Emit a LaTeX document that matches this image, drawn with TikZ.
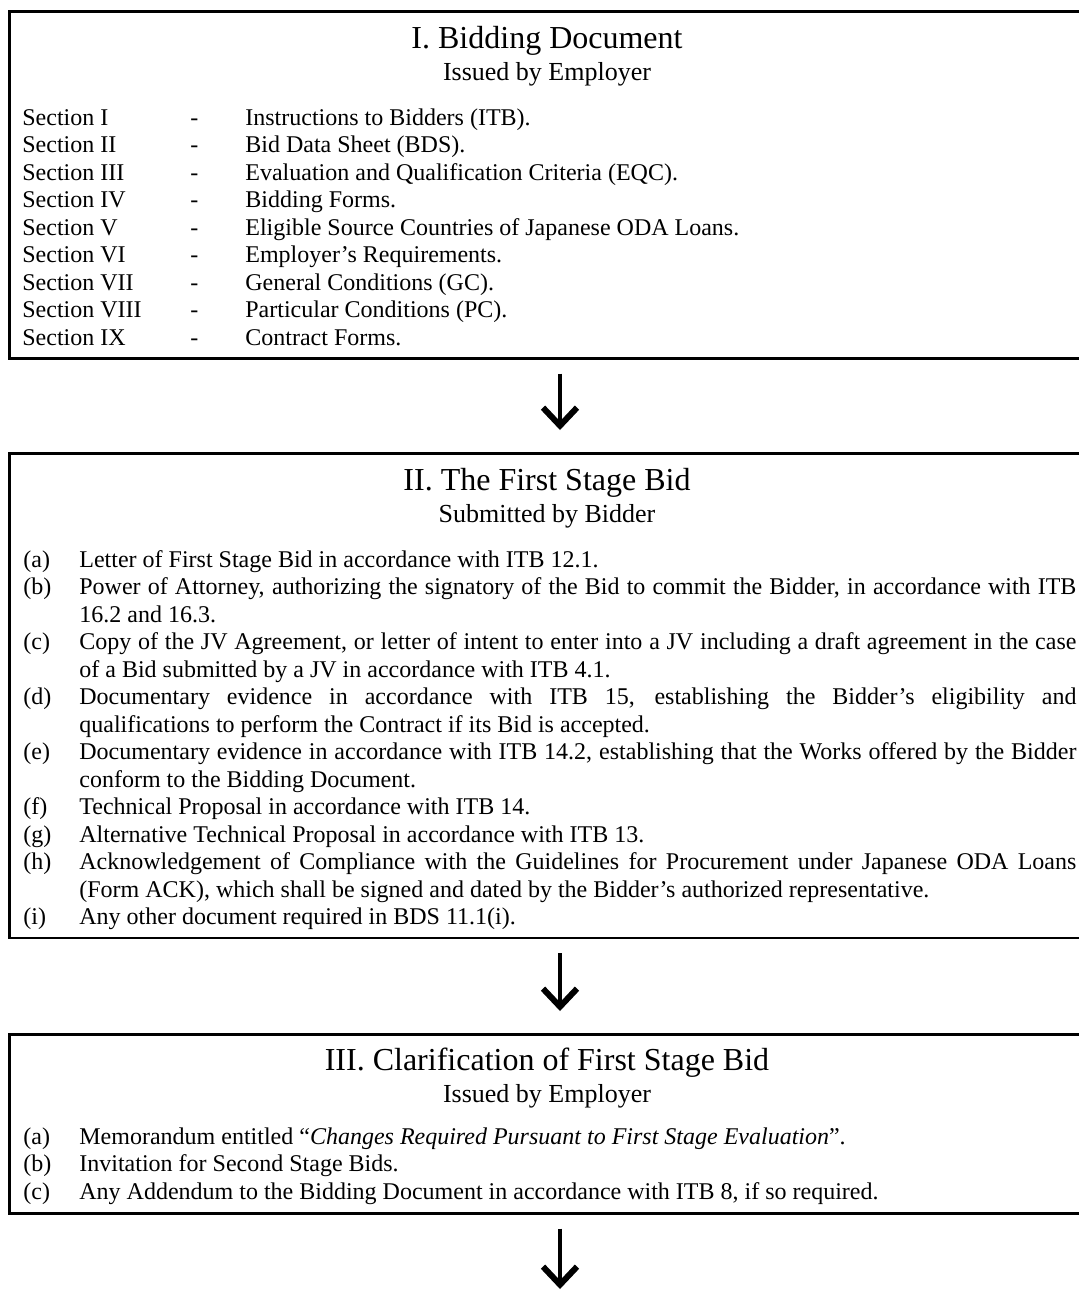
\documentclass[tikz,border=0pt]{standalone}
\usepackage{fontspec}
\setmainfont{Liberation Serif}
\usetikzlibrary{arrows.meta,
	calc,
	positioning}
\hyphenpenalty=10000
\exhyphenpenalty=10000
\tikzstyle{docbox}=[draw, line width=1.35pt, inner sep=0, anchor=north west, minimum width=539pt]
\tikzstyle{headline}=[font=\fontsize{16}{19}\selectfont, anchor=base, inner sep=0]
\tikzstyle{subline}=[font=\fontsize{13}{15}\selectfont, anchor=base, inner sep=0]
\tikzstyle{txt}=[font=\fontsize{12}{13.75}\selectfont, anchor=base west, inner sep=0]
\tikzstyle{itemtxt}=[txt, text width=498.5pt, align=justify]
\tikzstyle{flow}=[-{Straight Barb[length=9pt,width=17pt,line width=3pt]}, line width=2pt]

\begin{document}
\begin{tikzpicture}[x=0.5pt,y=-0.5pt]
                \useasboundingbox (0,0) rectangle (1078,1292);
                % I. Bidding Document
                \node[docbox, minimum height=173.5pt] (doc) at (8,10) {};
                \node[headline] (doctitle) at (547,48) {I. Bidding Document};
                \node[subline] (docby) at (547,80) {Issued by Employer};
                \foreach \sec/\desc [count=\i from 0] in {I/{Instructions to Bidders (ITB).},
                    II/{Bid Data Sheet (BDS).},
                    III/{Evaluation and Qualification Criteria (EQC).},
                    IV/{Bidding Forms.},
                    V/{Eligible Source Countries of Japanese ODA Loans.},
                    VI/{Employer’s Requirements.},
                    VII/{General Conditions (GC).},
                    VIII/{Particular Conditions (PC).},
                    IX/{Contract Forms.}} {
                    \node[txt] (sec\i) at (22,{125+27.5*\i}) {Section \sec};
                    \node[txt] (dash\i) at (190,{125+27.5*\i}) {-};
                    \node[txt] (desc\i) at (245,{125+27.5*\i}) {\desc};
                }
                % II. The First Stage Bid
                \node[docbox, minimum height=242.25pt] (first) at (8,452) {};
                \node[headline] (firsttitle) at (547,490) {II. The First Stage Bid};
                \node[subline] (firstby) at (547,522) {Submitted by Bidder};
                \foreach \lab/\ln/\body in {a/0/{Letter of First Stage Bid in accordance with ITB 12.1.},
                    b/1/{Power of Attorney, authorizing the signatory of the Bid to commit the Bidder, in accordance with ITB\linebreak 16.2 and 16.3.},
                    c/3/{Copy of the JV Agreement, or letter of intent to enter into a JV including a draft agreement in the case\linebreak of a Bid submitted by a JV in accordance with ITB 4.1.},
                    d/5/{Documentary evidence in accordance with ITB 15, establishing the Bidder’s eligibility and\linebreak qualifications to perform the Contract if its Bid is accepted.},
                    e/7/{Documentary evidence in accordance with ITB 14.2, establishing that the Works offered by the Bidder\linebreak conform to the Bidding Document.},
                    f/9/{Technical Proposal in accordance with ITB 14.},
                    g/10/{Alternative Technical Proposal in accordance with ITB 13.},
                    h/11/{Acknowledgement of Compliance with the Guidelines for Procurement under Japanese ODA Loans\linebreak (Form ACK), which shall be signed and dated by the Bidder’s authorized representative.},
                    i/13/{Any other document required in BDS 11.1(i).}} {
                    \node[txt] (lab\lab) at (23,{567+27.5*\ln}) {(\lab)};
                    \node[itemtxt] (item\lab) at (79,{567+27.5*\ln}) {\body};
                }
                % III. Clarification of First Stage Bid
                \node[docbox, minimum height=89.5pt] (clar) at (8,1033) {};
                \node[headline] (clartitle) at (547,1070) {III. Clarification of First Stage Bid};
                \node[subline] (clarby) at (547,1102) {Issued by Employer};
                \foreach \lab/\ln/\body in {a/0/{Memorandum entitled “\textit{Changes Required Pursuant to First Stage Evaluation}”.},
                    b/1/{Invitation for Second Stage Bids.},
                    c/2/{Any Addendum to the Bidding Document in accordance with ITB 8, if so required.}} {
                    \node[txt] (clab\lab) at (23,{1144+27.5*\ln}) {(\lab)};
                    \node[itemtxt] (citem\lab) at (79,{1144+27.5*\ln}) {\body};
                }
                % arrows
                \coordinate (arrx) at (560,0);
                \coordinate (next) at (560,1292);
                \draw[flow, shorten <=7pt, shorten >=11pt] (doc.south -| arrx) -- (first.north -| arrx);
                \draw[flow, shorten <=7pt, shorten >=11pt] (first.south -| arrx) -- (clar.north -| arrx);
                \draw[flow, shorten <=7pt, shorten >=1.5pt] (clar.south -| arrx) -- (next);
\end{tikzpicture}
\end{document}
